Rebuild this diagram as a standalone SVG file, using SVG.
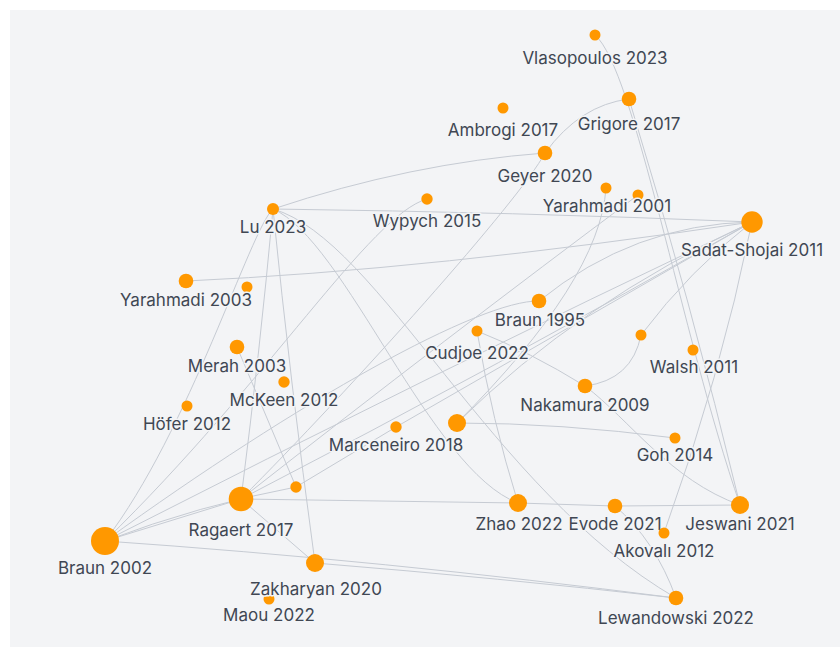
<svg xmlns="http://www.w3.org/2000/svg" width="840" height="648" viewBox="0 0 840 648">
  <style>
    .panel { fill: #f3f4f6; }
    .edge { fill: none; stroke: #c6cbd3; stroke-width: 1; }
    .dot { fill: #ff9800; }
    .label { font-family: Inter, "Liberation Sans", sans-serif; font-size: 17px; fill: #404753; text-anchor: middle;
             paint-order: stroke; stroke: #f3f4f6; stroke-width: 3; stroke-linejoin: round; }
  </style>

  <rect x="0" y="0" width="840" height="648" fill="#ffffff"/>
  <rect class="panel" x="10" y="10" width="830" height="637"/>

  <!-- citation links -->
  <g id="connectors">
    <path class="edge" d="M595,35 C635,70 680,330 740,505"/>
    <path class="edge" d="M629,99 Q691,302 740,505"/>
    <path class="edge" d="M629,99 Q580,105 545,153"/>
    <path class="edge" d="M273,209 Q411,163 545,153"/>
    <path class="edge" d="M273,209 Q512,212 752,222"/>
    <path class="edge" d="M186,281 Q430,270 752,222"/>
    <path class="edge" d="M273,209 C250,230 190,430 105,541"/>
    <path class="edge" d="M427,199 C370,215 270,380 105,541"/>
    <path class="edge" d="M273,209 Q260,350 241,499"/>
    <path class="edge" d="M273,209 Q290,380 315,563"/>
    <path class="edge" d="M237,347 L296,487"/>
    <path class="edge" d="M273,209 C345,240 430,470 518,503"/>
    <path class="edge" d="M273,209 C380,240 490,490 676,598"/>
    <path class="edge" d="M477,331 Q492,420 518,503"/>
    <path class="edge" d="M477,331 Q530,352 585,386"/>
    <path class="edge" d="M585,386 C630,420 670,480 740,505"/>
    <path class="edge" d="M585,386 Q632,380 641,335"/>
    <path class="edge" d="M641,335 Q690,270 752,222"/>
    <path class="edge" d="M752,222 Q720,378 664,533"/>
    <path class="edge" d="M241,499 L315,563"/>
    <path class="edge" d="M105,541 L241,499"/>
    <path class="edge" d="M105,541 Q200,505 296,487"/>
    <path class="edge" d="M105,541 Q380,560 676,598"/>
    <path class="edge" d="M315,563 Q500,578 676,598"/>
    <path class="edge" d="M241,499 L518,503 L615,506 L740,505"/>
    <path class="edge" d="M615,506 Q655,540 676,598"/>
    <path class="edge" d="M457,423 Q560,423 675,438"/>
    <path class="edge" d="M457,423 Q580,302 752,222"/>
    <path class="edge" d="M606,188 Q600,280 457,423"/>
    <path class="edge" d="M539,301 Q634,224 752,222"/>
    <path class="edge" d="M539,301 C480,300 300,400 105,541"/>
    <path class="edge" d="M105,541 Q430,375 752,222"/>
    <path class="edge" d="M241,499 Q500,365 752,222"/>
    <path class="edge" d="M545,153 C520,200 350,390 241,499"/>
    <path class="edge" d="M241,499 Q450,335 638,195"/>
    <path class="edge" d="M296,487 L396,427 L752,222"/>
  </g>

  <!-- papers -->
  <g id="vlasopoulos-2023"><circle class="dot" cx="595" cy="35" r="5.5"/><text class="label" x="595" y="64">Vlasopoulos 2023</text></g>
  <g id="grigore-2017"><circle class="dot" cx="629" cy="99" r="7.3"/><text class="label" x="629" y="130">Grigore 2017</text></g>
  <g id="ambrogi-2017"><circle class="dot" cx="503" cy="108" r="5.5"/><text class="label" x="503" y="136">Ambrogi 2017</text></g>
  <g id="geyer-2020"><circle class="dot" cx="545" cy="153" r="7.3"/><text class="label" x="545" y="182">Geyer 2020</text></g>
  <g id="paper-638-195"><circle class="dot" cx="638" cy="195" r="5.5"/></g>
  <g id="yarahmadi-2001"><circle class="dot" cx="606" cy="188" r="5.5"/><text class="label" x="607" y="212">Yarahmadi 2001</text></g>
  <g id="lu-2023"><circle class="dot" cx="273" cy="209" r="6"/><text class="label" x="273" y="233">Lu 2023</text></g>
  <g id="wypych-2015"><circle class="dot" cx="427" cy="199" r="5.7"/><text class="label" x="427" y="227">Wypych 2015</text></g>
  <g id="sadat-shojai-2011"><circle class="dot" cx="752" cy="222" r="10.7"/><text class="label" x="752" y="256">Sadat-Shojai 2011</text></g>
  <g id="paper-247-287"><circle class="dot" cx="247" cy="287" r="5.5"/></g>
  <g id="yarahmadi-2003"><circle class="dot" cx="186" cy="281" r="7.3"/><text class="label" x="186" y="306">Yarahmadi 2003</text></g>
  <g id="braun-1995"><circle class="dot" cx="539" cy="301" r="7.3"/><text class="label" x="540" y="326">Braun 1995</text></g>
  <g id="cudjoe-2022"><circle class="dot" cx="477" cy="331" r="5.5"/><text class="label" x="477" y="359">Cudjoe 2022</text></g>
  <g id="paper-641-335"><circle class="dot" cx="641" cy="335" r="5.5"/></g>
  <g id="walsh-2011"><circle class="dot" cx="693" cy="350" r="5.5"/><text class="label" x="694" y="373">Walsh 2011</text></g>
  <g id="merah-2003"><circle class="dot" cx="237" cy="347" r="7.3"/><text class="label" x="237" y="372">Merah 2003</text></g>
  <g id="mckeen-2012"><circle class="dot" cx="284" cy="382" r="5.7"/><text class="label" x="284" y="406">McKeen 2012</text></g>
  <g id="nakamura-2009"><circle class="dot" cx="585" cy="386" r="7.3"/><text class="label" x="585" y="411">Nakamura 2009</text></g>
  <g id="hofer-2012"><circle class="dot" cx="187" cy="406" r="5.5"/><text class="label" x="187" y="430">Höfer 2012</text></g>
  <g id="paper-457-423"><circle class="dot" cx="457" cy="423" r="9"/></g>
  <g id="marceneiro-2018"><circle class="dot" cx="396" cy="427" r="5.7"/><text class="label" x="396" y="451">Marceneiro 2018</text></g>
  <g id="goh-2014"><circle class="dot" cx="675" cy="438" r="5.5"/><text class="label" x="675" y="461">Goh 2014</text></g>
  <g id="paper-296-487"><circle class="dot" cx="296" cy="487" r="5.7"/></g>
  <g id="ragaert-2017"><circle class="dot" cx="241" cy="499" r="12.3"/><text class="label" x="241" y="536">Ragaert 2017</text></g>
  <g id="zhao-2022"><circle class="dot" cx="518" cy="503" r="9"/><text class="label" x="519" y="530">Zhao 2022</text></g>
  <g id="evode-2021"><circle class="dot" cx="615" cy="506" r="7.3"/><text class="label" x="615" y="530">Evode 2021</text></g>
  <g id="jeswani-2021"><circle class="dot" cx="740" cy="505" r="9"/><text class="label" x="740" y="530">Jeswani 2021</text></g>
  <g id="akovali-2012"><circle class="dot" cx="664" cy="533" r="5.5"/><text class="label" x="664" y="557">Akovalı 2012</text></g>
  <g id="braun-2002"><circle class="dot" cx="105" cy="541" r="14"/><text class="label" x="105" y="574">Braun 2002</text></g>
  <g id="maou-2022"><circle class="dot" cx="269" cy="599" r="5.5"/><text class="label" x="269" y="621">Maou 2022</text></g>
  <g id="zakharyan-2020"><circle class="dot" cx="315" cy="563" r="9"/><text class="label" x="316" y="595">Zakharyan 2020</text></g>
  <g id="lewandowski-2022"><circle class="dot" cx="676" cy="598" r="7.3"/><text class="label" x="676" y="624">Lewandowski 2022</text></g>
</svg>
